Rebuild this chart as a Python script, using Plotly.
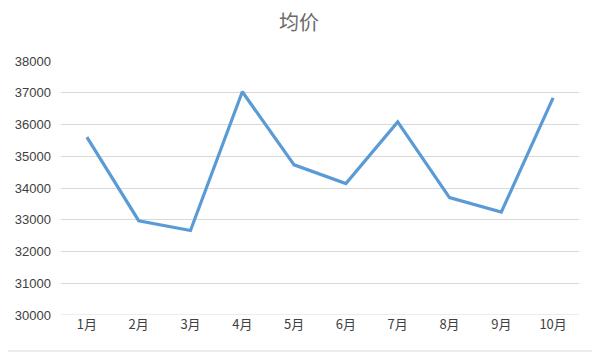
import plotly.graph_objects as go

months = ["1月", "2月", "3月", "4月", "5月", "6月", "7月", "8月", "9月", "10月"]
avg_price = [35600, 32970, 32660, 37030, 34730, 34140, 36080, 33700, 33240, 36840]
y_ticks = [30000, 31000, 32000, 33000, 34000, 35000, 36000, 37000, 38000]

# page body has an 8px default margin, so the figure is sized/offset to compensate
W, H = 592, 349
L, R, T, B = 53, 21, 53, 42
PW, PH = W - L - R, H - T - B

fig = go.Figure()
fig.add_trace(go.Scatter(
    x=months, y=avg_price, mode="lines",
    line=dict(color="#5B9BD5", width=3.2),
    hoverinfo="x+y",
))

fig.update_layout(
    width=W, height=H,
    margin=dict(l=L, r=R, t=T, b=B, autoexpand=False),
    paper_bgcolor="white", plot_bgcolor="white",
    showlegend=False,
    title=dict(text="均价", x=(299 - 8) / W, xanchor="center", y=1 - 15 / H, yanchor="middle",
               font=dict(family="Noto Sans CJK SC", size=20, color="#6a6a6a")),
    font=dict(family="Noto Sans CJK SC", color="#595959", size=12),
)
fig.update_xaxes(
    type="category", range=[-0.5, 9.5], showgrid=False, showline=False,
    zeroline=False, ticks="", automargin=False,
    tickfont=dict(size=13, color="#404040"),
)
fig.update_yaxes(
    range=[30000, 38000], tickvals=y_ticks, ticktext=[str(v) for v in y_ticks],
    showgrid=True, gridcolor="#D9D9D9", gridwidth=1, zeroline=False,
    showline=False, ticks="", ticklabelstandoff=9, automargin=False,
    tickfont=dict(family="Liberation Sans", size=13, color="#404040"),
)
fig.add_shape(type="line", xref="x domain", yref="y", x0=0, x1=1, y0=30000, y1=30000,
              line=dict(color="#D9D9D9", width=1), layer="below")
# chart frame (right and bottom edges)
xr = (588 - L) / PW
yb = -(343 - (H - B)) / PH
fig.add_shape(type="line", xref="paper", yref="paper", x0=xr, x1=xr, y0=yb, y1=1 + T / PH,
              line=dict(color="#D9D9D9", width=1), layer="below")
fig.add_shape(type="line", xref="paper", yref="paper", x0=-L / PW, x1=xr, y0=yb, y1=yb,
              line=dict(color="#D9D9D9", width=1), layer="below")

fig.write_html("out.html")
